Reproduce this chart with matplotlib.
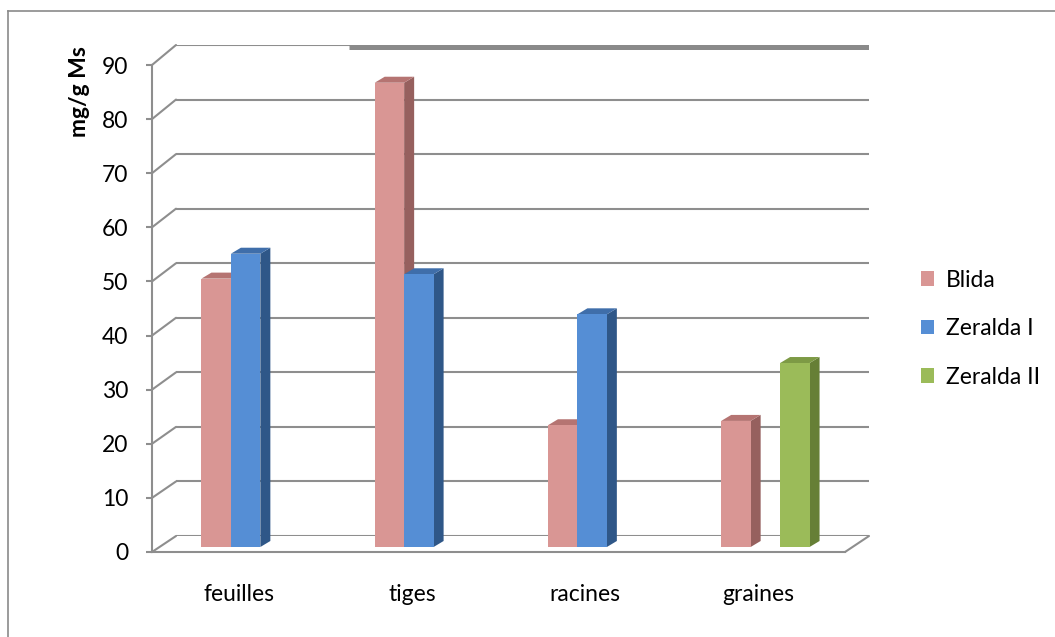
import numpy as np
import matplotlib
matplotlib.use("Agg")
import matplotlib.pyplot as plt
import matplotlib.transforms as mtransforms
from matplotlib.patches import Polygon, Patch, ConnectionPatch
from matplotlib.lines import Line2D

plt.rcParams["font.family"] = ["Lato", "DejaVu Sans"]

# ── Data ──────────────────────────────────────────────────────────────
categories = ["feuilles", "tiges", "racines", "graines"]
series     = ["Blida", "Zeralda I", "Zeralda II"]
blida      = [49.6, 85.8, 22.5, 23.3]
zeralda_1  = [54.2, 50.4, 43.0, np.nan]
zeralda_2  = [np.nan, np.nan, np.nan, 34.0]
y_ticks    = [0, 10, 20, 30, 40, 50, 60, 70, 80, 90]

# front / top / side shades for each series
face_colors = {
    "Blida"      : ("#D99694", "#B57472", "#96605E"),
    "Zeralda I"  : ("#558ED5", "#3F6EAA", "#2F5788"),
    "Zeralda II" : ("#9BBB59", "#7D9A45", "#667F36"),
}
grid_col = "#8E8E8E"
font_sz  = 16.5

W, H = 1055, 637
fig = plt.figure(figsize=(W / 100, H / 100), dpi=100)

def box(left, top, right, bottom):
    return [left / W, 1 - bottom / H, (right - left) / W, (bottom - top) / H]

# back wall and front (axis) plane of the pseudo-3D chart
back = fig.add_axes(box(176, 45, 869, 536), zorder=0)
ax   = fig.add_axes(box(152, 65, 845, 552), zorder=1)
for a in (back, ax):
    a.set_xlim(0, len(categories))
    a.set_ylim(0, 90)
    a.patch.set_alpha(0)
back.axis("off")

# back wall gridlines
for v in y_ticks:
    back.plot([0, len(categories)], [v, v], color=grid_col, lw=1.5,
              solid_capstyle="butt")
thick_tr = mtransforms.offset_copy(back.transData, fig, x=0, y=-2.5, units="dots")
back.plot([1, len(categories)], [90, 90], color="#8A8A8A", lw=3.6,
          transform=thick_tr, solid_capstyle="butt")

# connectors between front axis and back wall
for v in y_ticks:
    fig.add_artist(ConnectionPatch(xyA=(0, v), coordsA=ax.transData,
                                   xyB=(0, v), coordsB=back.transData,
                                   color=grid_col, lw=1.5))
fig.add_artist(ConnectionPatch(xyA=(len(categories), 0), coordsA=ax.transData,
                               xyB=(len(categories), 0), coordsB=back.transData,
                               color=grid_col, lw=1.5))

# front axis styling
for s in ["top", "right"]:
    ax.spines[s].set_visible(False)
ax.spines["left"].set_color(grid_col)
ax.spines["left"].set_linewidth(1.5)
ax.spines["bottom"].set_color(grid_col)
ax.spines["bottom"].set_linewidth(1.5)
ax.set_yticks(y_ticks)
ax.tick_params(axis="y", length=4, width=1.5, color=grid_col,
               labelsize=font_sz, pad=13)
ax.set_xticks(np.arange(len(categories)) + 0.5)
ax.set_xticklabels(categories)
ax.tick_params(axis="x", length=0, labelsize=font_sz, pad=23)
ax.set_ylabel("mg/g Ms", fontsize=font_sz, fontweight="bold")
ax.yaxis.set_label_coords(-0.089, 0.945)

# ── 3D columns ────────────────────────────────────────────────────────
bar_tr = mtransforms.offset_copy(ax.transData, fig, x=7, y=5, units="dots")
ident  = mtransforms.IdentityTransform()
width  = 0.17
depth_dx, depth_dy = 10, 6

def draw_bar(x_left, value, cols):
    front, top, side = cols
    x0, y0 = bar_tr.transform((x_left, 0))
    x1, y1 = bar_tr.transform((x_left + width, value))
    side_p = Polygon([(x1, y0), (x1 + depth_dx, y0 + depth_dy),
                      (x1 + depth_dx, y1 + depth_dy), (x1, y1)],
                     closed=True, facecolor=side, edgecolor="none",
                     transform=ident)
    top_p = Polygon([(x0, y1), (x1, y1), (x1 + depth_dx, y1 + depth_dy),
                     (x0 + depth_dx, y1 + depth_dy)],
                    closed=True, facecolor=top, edgecolor="none",
                    transform=ident)
    front_p = Polygon([(x0, y0), (x1, y0), (x1, y1), (x0, y1)],
                      closed=True, facecolor=front, edgecolor="none",
                      transform=ident)
    for p in (side_p, top_p, front_p):
        fig.add_artist(p)

all_values = [blida, zeralda_1, zeralda_2]
for i in range(len(categories)):
    for k, (name, vals) in enumerate(zip(series, all_values)):
        v = vals[i]
        if np.isnan(v):
            continue
        x_left = i + 0.5 + (k - 1.5) * width
        draw_bar(x_left, v, face_colors[name])

# ── Legend ────────────────────────────────────────────────────────────
handles = [Patch(facecolor=face_colors[s][0], edgecolor="none", label=s)
           for s in series]
fig.legend(handles=handles, loc="upper left",
           bbox_to_anchor=(900 / W, 1 - 249 / H), frameon=False,
           fontsize=font_sz, handlelength=0.6, handleheight=0.6,
           handletextpad=0.5, labelspacing=1.2)

# outer chart border
fig.add_artist(Line2D([8 / W, 8 / W], [0, 1 - 11 / H], color="#8A8A8A", lw=1.2))
fig.add_artist(Line2D([8 / W, 1], [1 - 11 / H, 1 - 11 / H], color="#8A8A8A", lw=1.2))

fig.savefig("out.png", dpi=100)
plt.close(fig)
